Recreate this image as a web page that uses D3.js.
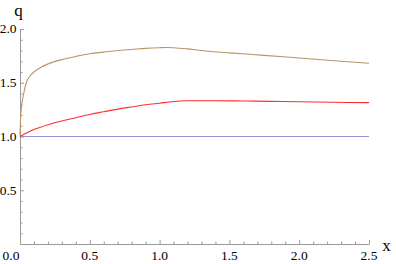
<!DOCTYPE html>
<html>
<head>
<meta charset="utf-8">
<script src="https://cdn.jsdelivr.net/npm/d3@7"></script>
<style>
  body { margin: 0; background: #fff; }
  svg { display: block; }
</style>
</head>
<body>
<div id="chart"></div>
<script>
// Data
const brownX = [0, 0.004, 0.012, 0.025, 0.045, 0.07, 0.1, 0.15, 0.2, 0.3, 0.4, 0.5, 0.6, 0.7, 0.8, 0.9, 1.0, 1.05, 1.1, 1.2, 1.3, 1.5, 1.75, 2.0, 2.25, 2.5];
const brownY = [1.0, 1.17, 1.29, 1.39, 1.50, 1.56, 1.60, 1.645, 1.675, 1.715, 1.745, 1.77, 1.785, 1.80, 1.81, 1.82, 1.826, 1.828, 1.826, 1.815, 1.80, 1.778, 1.755, 1.73, 1.705, 1.682];
const redX = [0, 0.05, 0.1, 0.2, 0.3, 0.4, 0.5, 0.6, 0.7, 0.8, 0.9, 1.0, 1.1, 1.2, 1.4, 1.6, 1.8, 2.0, 2.25, 2.5];
const redY = [1.0, 1.035, 1.065, 1.11, 1.145, 1.175, 1.205, 1.23, 1.255, 1.275, 1.295, 1.31, 1.325, 1.332, 1.333, 1.33, 1.327, 1.323, 1.318, 1.315];
const blueX = [0, 2.5];
const blueY = [1.0, 1.0];

const xMajor = [0, 0.5, 1.0, 1.5, 2.0, 2.5];
const yMajor = [0.5, 1.0, 1.5, 2.0];

const width = 396, height = 264;
const serif = "'Liberation Serif', 'Times New Roman', 'DejaVu Serif', serif";
const svg = d3.select('#chart').append('svg')
    .attr('width', width)
    .attr('height', height)
    .style('font-family', serif);

const x = d3.scaleLinear().domain([0, 2.5]).range([20, 369]);
const y = d3.scaleLinear().domain([0, 2.0]).range([244, 29]);

const axisColor = '#9a9a9a';
const fmt = d3.format('.1f');

// minor ticks every 0.1
const xMinor = d3.range(0, 2.5001, 0.1).filter(v => Math.abs(v * 2 - Math.round(v * 2)) > 1e-6);
const yMinor = d3.range(0.1, 2.0001, 0.1).filter(v => Math.abs(v * 2 - Math.round(v * 2)) > 1e-6);

const gx = svg.append('g').attr('transform', `translate(0,${y(0)})`);
gx.call(d3.axisBottom(x).tickValues(xMajor).tickSizeInner(-4).tickSizeOuter(0).tickFormat(''));
gx.append('g').call(d3.axisBottom(x).tickValues(xMinor).tickSizeInner(-2.5).tickSizeOuter(0).tickFormat(''))
    .select('.domain').remove();

const gy = svg.append('g').attr('transform', `translate(${x(0)},0)`);
gy.call(d3.axisLeft(y).tickValues(yMajor).tickSizeInner(-4).tickSizeOuter(0).tickFormat(''));
gy.append('g').call(d3.axisLeft(y).tickValues(yMinor).tickSizeInner(-2.5).tickSizeOuter(0).tickFormat(''))
    .select('.domain').remove();

svg.selectAll('.domain, .tick line').attr('stroke', axisColor);

// tick labels (first x label sits left of the origin)
svg.append('g').selectAll('text')
    .data(xMajor)
    .join('text')
    .attr('x', d => d === 0 ? x(d) - 9 : x(d))
    .attr('y', 260)
    .attr('text-anchor', 'middle')
    .style('font-family', serif)
    .style('font-size', '13.5px')
    .text(fmt);

svg.append('g').selectAll('text')
    .data(yMajor)
    .join('text')
    .attr('x', 16.5)
    .attr('y', d => y(d))
    .attr('dy', '0.33em')
    .attr('text-anchor', 'end')
    .style('font-family', serif)
    .style('font-size', '13.5px')
    .text(fmt);

// axis labels
svg.append('text').attr('x', 18.5).attr('y', 16).attr('text-anchor', 'middle')
    .style('font-family', serif).style('font-size', '17px').text('q');
svg.append('text').attr('x', 386.5).attr('y', 251).attr('text-anchor', 'middle')
    .style('font-family', serif).style('font-size', '17px').text('x');

// curves
const line = d3.line().curve(d3.curveMonotoneX);
const series = [
    { xs: blueX, ys: blueY, color: '#9494d6' },
    { xs: redX, ys: redY, color: '#ff2e2e' },
    { xs: brownX, ys: brownY, color: '#b99466' }
];
svg.selectAll('path.curve')
    .data(series)
    .join('path')
    .attr('class', 'curve')
    .attr('fill', 'none')
    .attr('stroke', d => d.color)
    .attr('stroke-width', 1.1)
    .attr('d', d => line(d.xs.map((v, i) => [x(v), y(d.ys[i])])));
</script>
</body>
</html>
